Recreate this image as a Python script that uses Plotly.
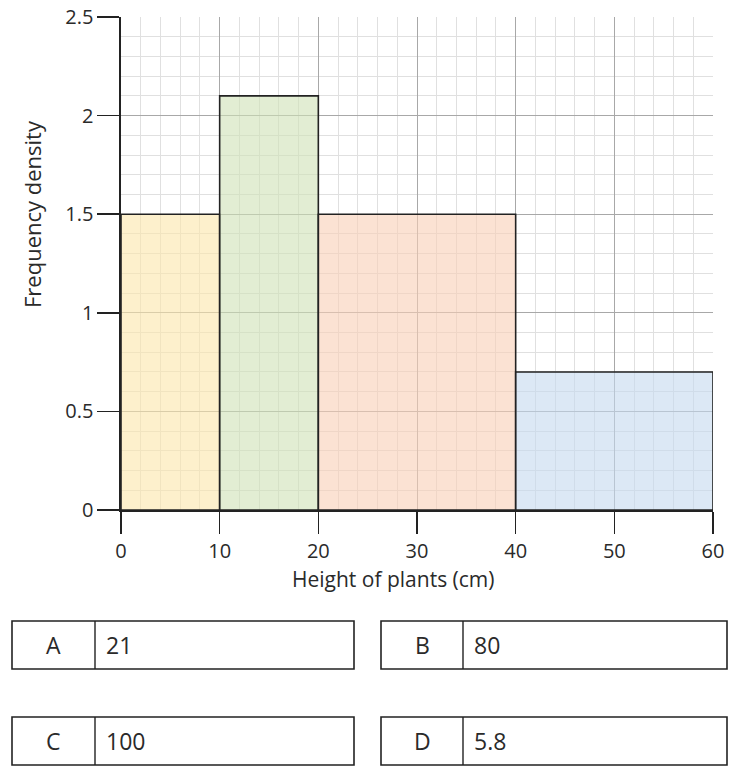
import plotly.graph_objects as go

# Data
bin_lefts = [0, 10, 20, 40]
bin_widths = [10, 10, 20, 20]
freq_density = [1.5, 2.1, 1.5, 0.7]
bar_colors = ["rgba(251,230,170,0.6)", "rgba(206,225,182,0.6)",
              "rgba(248,207,182,0.6)", "rgba(196,216,238,0.6)"]
x_ticks = [0, 10, 20, 30, 40, 50, 60]
y_ticks = [0, 0.5, 1, 1.5, 2, 2.5]
y_tick_labels = ["0", "0.5", "1", "1.5", "2", "2.5"]
option_letters = ["A", "B", "C", "D"]
option_values = ["21", "80", "100", "5.8"]

W, H = 740, 774
L = 121
R = W - 713
T = 17
B = H - 510
pw, ph = W - L - R, H - T - B

def px(x):
    return (x - L) / pw

def py(y):
    return (H - B - y) / ph

FONT = "Open Sans"
TXT = "#2a2a2a"

fig = go.Figure()
fig.add_trace(go.Bar(
    x=[l + w / 2 for l, w in zip(bin_lefts, bin_widths)],
    y=freq_density,
    width=bin_widths,
    marker=dict(color=bar_colors, line=dict(color="#222222", width=1.6)),
    hoverinfo="skip",
))

axis_common = dict(
    showline=True, linecolor="#222222", linewidth=1.6,
    ticks="outside", ticklen=22, tickwidth=1.6, tickcolor="#222222",
    gridcolor="#a8a8a8", gridwidth=1,
    tickfont=dict(family=FONT, size=20, color=TXT),
    zeroline=False, automargin=False, ticklabeloverflow="allow",
)

fig.update_xaxes(
    range=[0, 60], tickvals=x_ticks, ticktext=[str(v) for v in x_ticks],
    minor=dict(dtick=2, tick0=0, showgrid=True, gridcolor="#e0e0e0", gridwidth=1, ticks=""),
    **axis_common,
)
fig.update_yaxes(
    range=[0, 2.5], tickvals=y_ticks, ticktext=y_tick_labels,
    minor=dict(dtick=0.1, tick0=0, showgrid=True, gridcolor="#e0e0e0", gridwidth=1, ticks=""),
    **axis_common,
)

annotations = [
    dict(text="Frequency density", x=px(32), y=py(214), xref="paper", yref="paper",
         xanchor="center", yanchor="middle",
         textangle=-90, showarrow=False, font=dict(family=FONT, size=22, color=TXT)),
    dict(text="Height of plants (cm)", x=px(393), y=py(579), xref="paper", yref="paper",
         xanchor="center", yanchor="middle",
         showarrow=False, font=dict(family=FONT, size=21, color=TXT)),
]

shapes = []
boxes = [(12, 95, 354, 621, 669), (381, 463, 727, 621, 669),
         (12, 95, 354, 717, 765), (381, 463, 727, 717, 765)]
for (x0, xd, x1, y0, y1), letter, val in zip(boxes, option_letters, option_values):
    shapes.append(dict(type="rect", xref="paper", yref="paper",
                       x0=px(x0), x1=px(x1), y0=py(y1), y1=py(y0),
                       line=dict(color="#222222", width=1.6)))
    shapes.append(dict(type="line", xref="paper", yref="paper",
                       x0=px(xd), x1=px(xd), y0=py(y1), y1=py(y0),
                       line=dict(color="#222222", width=1.4)))
    annotations.append(dict(text=letter, x=px((x0 + xd) / 2), y=py((y0 + y1) / 2),
                            xref="paper", yref="paper", showarrow=False,
                            xanchor="center", yanchor="middle",
                            font=dict(family=FONT, size=23, color=TXT)))
    annotations.append(dict(text=val, x=px(xd + 9), y=py((y0 + y1) / 2),
                            xref="paper", yref="paper", showarrow=False,
                            xanchor="left", yanchor="middle",
                            font=dict(family=FONT, size=23, color=TXT)))

fig.update_layout(
    width=W, height=H,
    margin=dict(l=L, r=R, t=T, b=B),
    plot_bgcolor="white", paper_bgcolor="white",
    showlegend=False, bargap=0,
    annotations=annotations, shapes=shapes,
)

fig.write_html("out.html",
               config={"displayModeBar": False, "staticPlot": True},
               post_script="document.body.style.margin='0';document.body.style.overflow='hidden';")
